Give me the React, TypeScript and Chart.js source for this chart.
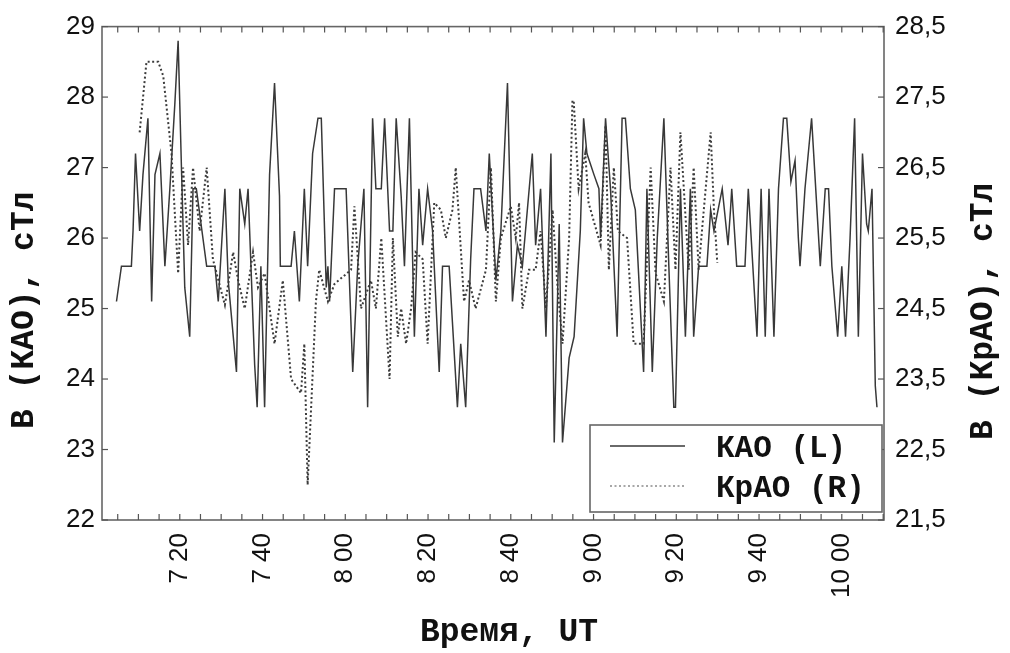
import React, { useEffect, useRef } from "react";
import { Chart, registerables } from "chart.js";

Chart.register(...registerables);

// Time axis: minutes after 07:00 UT
const kaoMinutes = [
  4.7, 5.9, 8.3, 8.7, 9.3, 10.3, 11.1, 12.3, 13.2, 14.0, 15.2, 16.4, 17.6, 18.8, 19.6, 20.4, 21.2, 22.4,
  23.2, 24.0, 26.5, 28.5, 29.3, 30.9, 31.7, 33.7, 34.5, 35.7, 36.5, 38.1, 38.7, 39.6, 40.5, 41.7, 42.9,
  44.1, 44.3, 46.9, 47.7, 48.9, 50.1, 50.9, 52.1, 53.4, 54.2, 55.4, 55.8, 56.2, 57.4, 60.2, 61.8, 63.0,
  64.5, 65.4, 66.6, 67.4, 68.7, 69.5, 70.7, 71.5, 72.3, 73.5, 74.3, 75.5, 76.7, 77.8, 78.7, 79.9, 81.1,
  82.7, 83.5, 85.1, 85.9, 87.1, 87.9, 89.1, 90.3, 91.1, 92.7, 94.0, 94.8, 96.4, 97.6, 99.2, 100.4, 101.6,
  102.8, 105.2, 106.0, 107.2, 108.5, 109.7, 110.5, 111.7, 112.5, 114.1, 115.3, 116.8, 117.6, 118.4, 120.1,
  121.3, 121.7, 122.9, 124.1, 125.7, 126.9, 127.7, 128.9, 130.1, 132.1, 132.9, 134.2, 135.4, 137.0, 138.2,
  139.4, 139.8, 141.0, 142.2, 143.4, 144.2, 145.4, 147.4, 148.3, 149.1, 151.1, 152.5, 153.1, 153.4, 154.6,
  156.6, 157.4, 159.5, 160.5, 161.5, 162.4, 163.6, 164.7, 165.9, 166.7, 167.7, 168.7, 169.5, 169.9, 171.1,
  172.7, 174.0, 174.8, 176.0, 176.8, 177.6, 179.0, 180.0, 180.9, 182.0, 183.1, 184.0, 185.0, 186.0, 186.4,
  187.3, 188.1, 188.5,
];
const kaoValues = [
  25.1, 25.6, 25.6, 26.1, 27.2, 26.1, 26.9, 27.7, 25.1, 26.9, 27.2, 25.6, 26.7, 27.9, 28.8, 27.0, 25.3, 24.6,
  26.7, 26.7, 25.6, 25.6, 25.1, 26.7, 25.4, 24.1, 26.7, 26.2, 26.7, 24.2, 23.6, 25.6, 23.6, 26.9, 28.2,
  26.6, 25.6, 25.6, 26.1, 25.1, 26.7, 25.6, 27.2, 27.7, 27.7, 25.3, 25.6, 25.1, 26.7, 26.7, 24.1, 25.6,
  26.7, 23.6, 27.7, 26.7, 26.7, 27.7, 26.1, 26.1, 27.7, 26.6, 25.6, 27.7, 24.6, 26.7, 25.9, 26.7, 26.1,
  24.1, 25.6, 25.6, 24.8, 23.6, 24.5, 23.6, 25.7, 26.7, 26.7, 26.1, 27.2, 25.4, 26.1, 28.2, 25.1, 25.9,
  25.6, 27.2, 25.9, 26.7, 24.6, 27.2, 23.1, 26.2, 23.1, 24.3, 24.6, 26.1, 27.7, 27.2, 26.9,
  26.7, 26.0, 27.7, 26.7, 24.6, 27.7, 27.7, 26.7, 26.4, 24.1, 26.7, 24.1, 26.0, 27.7, 25.6,
  23.6, 23.6, 26.7, 24.6, 26.7, 24.6, 25.6, 25.6, 26.4, 26.1, 26.7, 25.9, 26.4, 26.7, 25.6,
  25.6, 26.7, 24.6, 26.7, 24.6, 26.7, 24.6, 26.7, 27.7, 27.7, 26.8, 27.1, 26.0, 25.6, 26.7,
  27.7, 26.4, 25.6, 26.7, 26.7, 25.6, 24.6, 25.6, 24.6, 26.0, 27.7, 24.6, 27.2, 26.2, 26.1,
  26.7, 23.9, 23.6,
];

const kraoMinutes = [
  10.3, 11.95, 14.8, 16.0, 16.8, 18.0, 19.6, 20.8, 22.0, 23.2, 24.8, 26.5, 28.0, 30.9, 32.9, 34.1, 35.7,
  37.7, 38.9, 40.5, 42.9, 44.9, 46.9, 49.3, 50.1, 50.9, 52.9, 53.7, 55.8, 57.4, 61.4, 62.2, 63.8, 66.2,
  67.4, 68.7, 70.7, 71.5, 72.7, 73.5, 74.7, 75.9, 77.0, 78.7, 79.9, 81.5, 83.1, 84.3, 85.9, 86.7, 88.7,
  89.9, 91.5, 94.0, 95.2, 96.4, 97.6, 100.0, 101.2, 102.0, 102.8, 104.4, 106.0, 107.2, 108.5, 110.1,
  111.3, 112.5, 114.1, 114.9, 115.2, 116.4, 118.0, 118.8, 121.7, 122.9, 123.7, 124.9, 125.9, 128.1,
  129.7, 132.1, 133.8, 135.0, 137.0, 138.6, 139.8, 141.0, 143.0, 144.2, 145.4, 146.2, 148.3, 149.1, 149.9,
];
const kraoValues = [
  27.0, 28.0, 28.0, 27.8, 27.36, 26.7, 25.0, 26.5, 25.4, 26.5, 25.6, 26.5, 25.2, 24.55, 25.3, 24.9, 24.5,
  25.3, 24.8, 25.0, 24.0, 24.9, 23.5, 23.3, 24.0, 22.0, 24.6, 25.05, 24.6, 24.85, 25.05, 25.95, 24.5, 24.9,
  24.5, 25.5, 23.5, 25.5, 24.1, 24.5, 24.0, 24.5, 25.3, 25.2, 24.0, 26.0, 25.9, 25.5, 25.9, 26.5, 24.6,
  24.9, 24.5, 25.05, 26.5, 24.6, 25.5, 25.95, 25.5, 26.0, 24.5, 25.05, 25.05, 25.6, 24.5, 25.9,
  24.8, 24.0, 25.5, 27.45, 27.45, 26.2, 26.7, 26.0, 25.4, 27.1, 25.05, 26.5, 25.6, 25.5,
  24.0, 24.0, 26.5, 25.0, 24.6, 26.5, 25.05, 27.0, 25.05, 26.5, 25.05, 25.6, 27.0, 25.9, 25.15,
];

const seriesLabels = ["КАО (L)", "КрАО (R)"];
const xLabelMinutes = [20, 40, 60, 80, 100, 120, 140, 160, 180];
const leftTicks = [22, 23, 24, 25, 26, 27, 28, 29];
const rightTicks = [21.5, 22.5, 23.5, 24.5, 25.5, 26.5, 27.5, 28.5];
const leftTitle = "В (КАО), сТл";
const rightTitle = "В (КрАО), сТл";
const bottomTitle = "Время, UT";

const TICK_FONT = '"Liberation Sans", Arial, sans-serif';
const MONO_FONT = '"Liberation Mono", "Courier New", monospace';

function fmtTime(m: number): string {
  const h = 7 + Math.floor(m / 60);
  const mm = Math.round(m % 60);
  return `${h} ${mm < 10 ? "0" + mm : mm}`;
}

const framePlugin = {
  id: "frameAndExtras",
  afterDatasetsDraw(chart: any) {
    const { ctx, chartArea } = chart;
    const { left, right, top, bottom } = chartArea;
    ctx.save();
    // frame
    ctx.strokeStyle = "#666";
    ctx.lineWidth = 1.6;
    ctx.strokeRect(left, top, right - left, bottom - top);
    // inward ticks
    ctx.lineWidth = 1.2;
    ctx.strokeStyle = "#555";
    const xs = chart.scales.x;
    xs.ticks.forEach((t: any) => {
      const px = xs.getPixelForValue(t.value);
      ctx.beginPath();
      ctx.moveTo(px, bottom);
      ctx.lineTo(px, bottom - 6);
      ctx.moveTo(px, top);
      ctx.lineTo(px, top + 6);
      ctx.stroke();
    });
    const yl = chart.scales.y;
    yl.ticks.forEach((t: any) => {
      const py = yl.getPixelForValue(t.value);
      ctx.beginPath();
      ctx.moveTo(left, py);
      ctx.lineTo(left + 6, py);
      ctx.stroke();
    });
    const yr = chart.scales.y1;
    yr.ticks.forEach((t: any) => {
      const py = yr.getPixelForValue(t.value);
      ctx.beginPath();
      ctx.moveTo(right, py);
      ctx.lineTo(right - 6, py);
      ctx.stroke();
    });

    // legend box
    const lx0 = right - 294;
    const ly0 = bottom - 95;
    const lx1 = right - 2;
    const ly1 = bottom - 8;
    ctx.fillStyle = "#ffffff";
    ctx.fillRect(lx0, ly0, lx1 - lx0, ly1 - ly0);
    ctx.strokeStyle = "#666";
    ctx.lineWidth = 1.6;
    ctx.strokeRect(lx0, ly0, lx1 - lx0, ly1 - ly0);
    const rows = [ly0 + 21, ly0 + 61];
    chart.data.datasets.forEach((ds: any, i: number) => {
      ctx.save();
      ctx.strokeStyle = i === 0 ? ds.borderColor : "#8a8a8a";
      ctx.lineWidth = 1.7;
      ctx.setLineDash(ds.borderDash || []);
      ctx.beginPath();
      ctx.moveTo(lx0 + 20, rows[i]);
      ctx.lineTo(lx0 + 95, rows[i]);
      ctx.stroke();
      ctx.restore();
      ctx.fillStyle = "#111";
      ctx.font = `bold 31px ${MONO_FONT}`;
      ctx.textAlign = "left";
      ctx.textBaseline = "middle";
      ctx.fillText(ds.label, lx0 + 126, rows[i] + 3);
    });

    // axis titles
    ctx.fillStyle = "#111";
    ctx.font = `bold 33px ${MONO_FONT}`;
    ctx.textAlign = "center";
    ctx.textBaseline = "middle";
    ctx.save();
    ctx.translate(left - 77, (top + bottom) / 2 + 37);
    ctx.rotate(-Math.PI / 2);
    ctx.fillText(leftTitle, 0, 0);
    ctx.restore();
    ctx.save();
    ctx.translate(right + 100, (top + bottom) / 2 + 38);
    ctx.rotate(-Math.PI / 2);
    ctx.fillText(rightTitle, 0, 0);
    ctx.restore();
    ctx.fillText(bottomTitle, (left + right) / 2 + 16, bottom + 113);
    ctx.restore();
  },
};

export default function App() {
  const canvasRef = useRef<HTMLCanvasElement | null>(null);

  useEffect(() => {
    if (!canvasRef.current) return;
    const kaoData = kaoMinutes.map((m, i) => ({ x: m, y: kaoValues[i] }));
    const kraoData = kraoMinutes.map((m, i) => ({ x: m, y: kraoValues[i] }));
    const chart = new Chart(canvasRef.current, {
      type: "line",
      data: {
        datasets: [
          {
            label: seriesLabels[0],
            data: kaoData,
            yAxisID: "y",
            borderColor: "#383838",
            borderWidth: 1.5,
            pointRadius: 0,
            tension: 0,
            fill: false,
          },
          {
            label: seriesLabels[1],
            data: kraoData,
            yAxisID: "y1",
            borderColor: "#3c3c3c",
            borderWidth: 2,
            borderDash: [2, 2.5],
            pointRadius: 0,
            tension: 0,
            fill: false,
          },
        ],
      },
      options: {
        animation: false,
        responsive: false,
        events: [],
        layout: { padding: { top: 22, left: 0, right: 0, bottom: 0 } },
        plugins: {
          legend: { display: false },
          tooltip: { enabled: false },
          title: { display: false },
        },
        scales: {
          x: {
            type: "linear",
            position: "bottom",
            min: 1.2,
            max: 190.2,
            grid: { display: false, drawTicks: false },
            border: { display: false },
            afterBuildTicks: (scale: any) => {
              const ticks: any[] = [];
              for (let m = 5; m <= 190; m += 5) ticks.push({ value: m });
              scale.ticks = ticks;
            },
            ticks: {
              autoSkip: false,
              minRotation: 90,
              maxRotation: 90,
              padding: 13,
              color: "#111",
              font: { family: TICK_FONT, size: 26 },
              callback: (v: any) => (xLabelMinutes.includes(Number(v)) ? fmtTime(Number(v)) : ""),
            },
            afterFit: (scale: any) => {
              scale.height = 133;
            },
          },
          y: {
            type: "linear",
            position: "left",
            min: 22,
            max: 29,
            grid: { display: false, drawTicks: false },
            border: { display: false },
            afterBuildTicks: (scale: any) => {
              scale.ticks = leftTicks.map((v) => ({ value: v }));
            },
            ticks: {
              padding: 7,
              color: "#111",
              font: { family: TICK_FONT, size: 26 },
              callback: (v: any) => String(v),
            },
            afterFit: (scale: any) => {
              scale.width = 102;
            },
          },
          y1: {
            type: "linear",
            position: "right",
            min: 21.5,
            max: 28.5,
            grid: { display: false, drawTicks: false },
            border: { display: false },
            afterBuildTicks: (scale: any) => {
              scale.ticks = rightTicks.map((v) => ({ value: v }));
            },
            ticks: {
              padding: 11,
              color: "#111",
              font: { family: TICK_FONT, size: 26 },
              callback: (v: any) => Number(v).toFixed(1).replace(".", ","),
            },
            afterFit: (scale: any) => {
              scale.width = 126;
            },
          },
        },
      },
      plugins: [framePlugin],
    });
    return () => chart.destroy();
  }, []);

  return (
    <div style={{ position: "absolute", left: 0, top: 0, width: 1010, height: 653, background: "#fff" }}>
      <canvas ref={canvasRef} width={1010} height={653} />
    </div>
  );
}
